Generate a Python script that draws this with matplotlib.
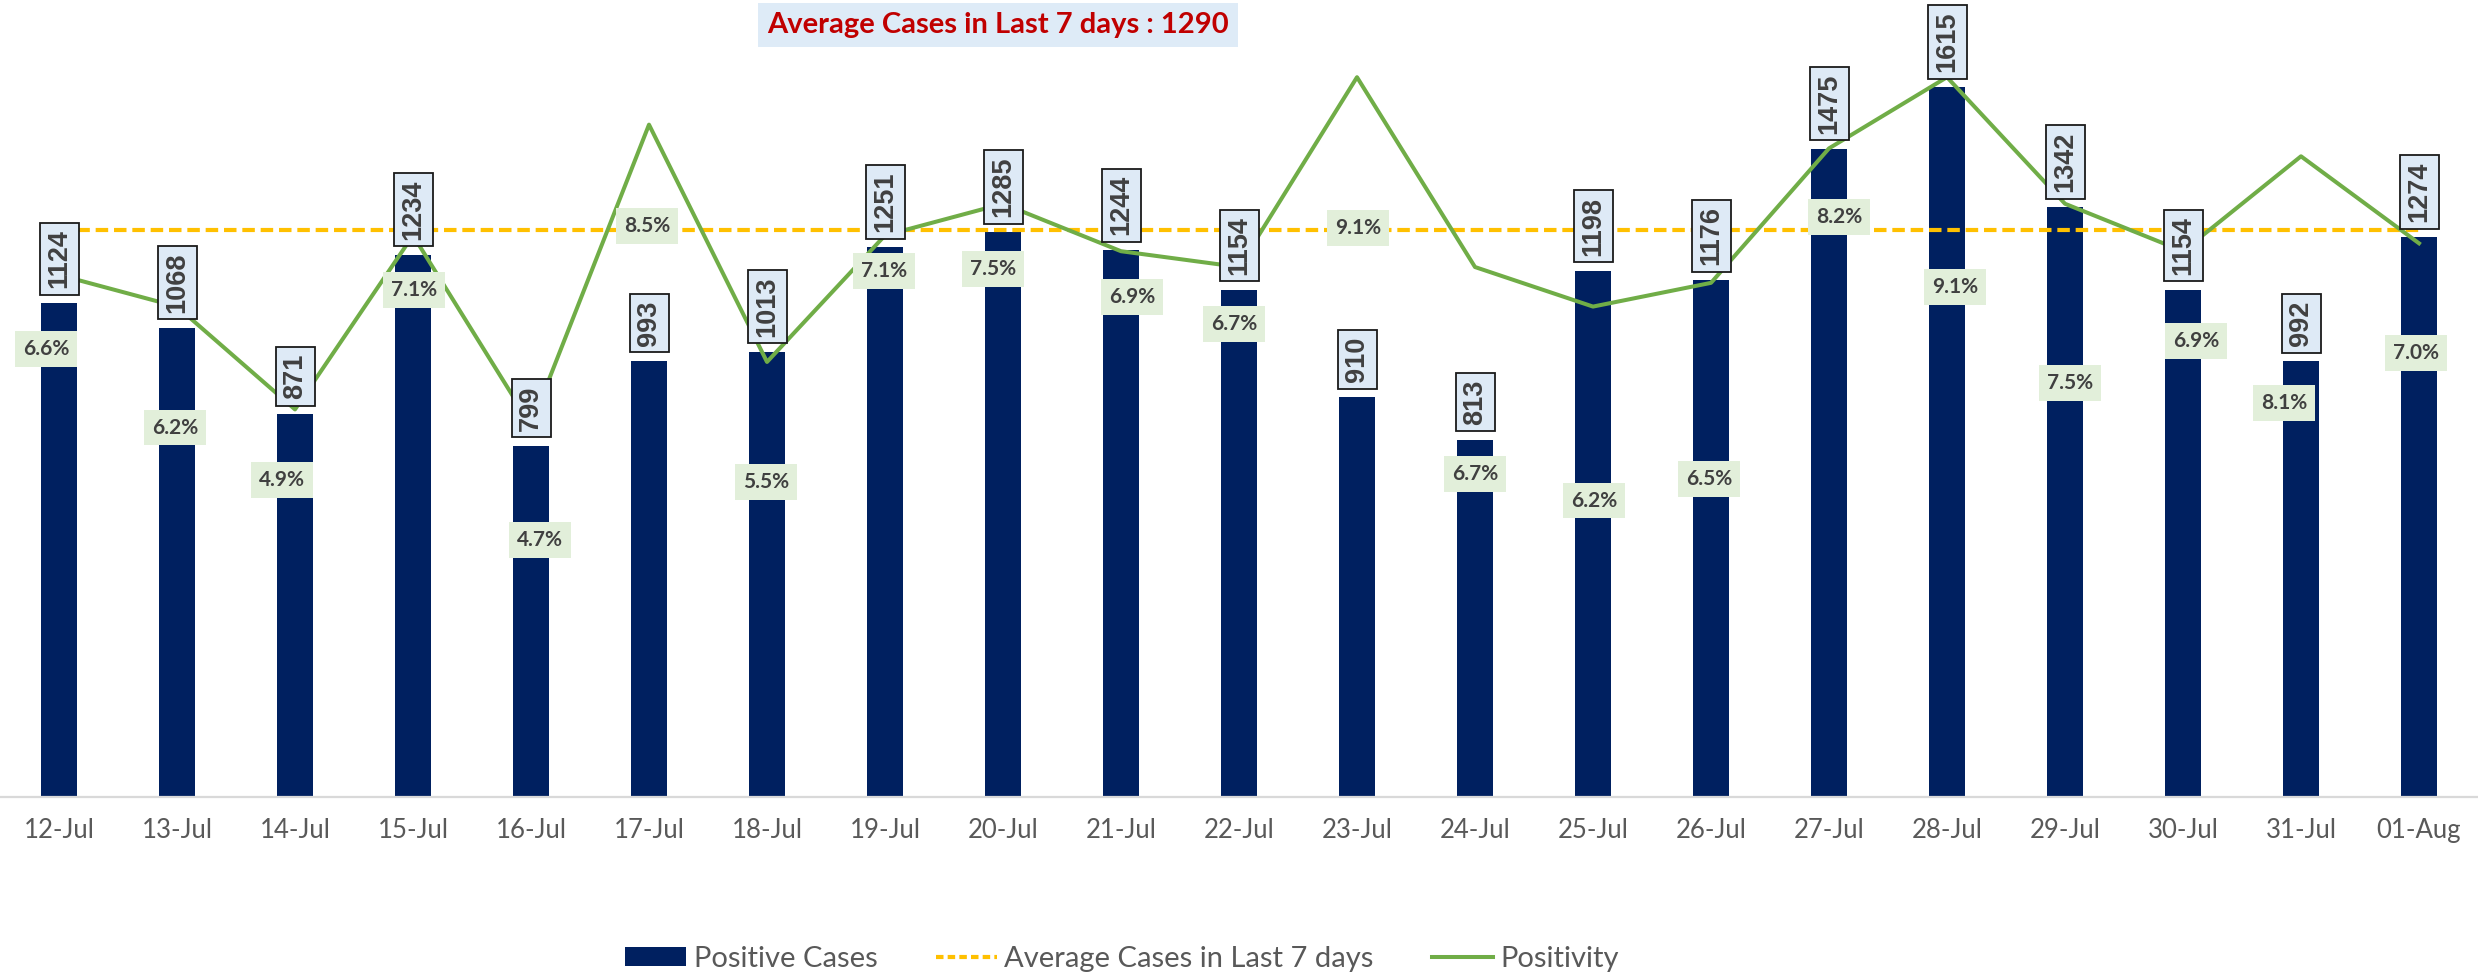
import matplotlib
matplotlib.use("Agg")
import matplotlib.pyplot as plt
from matplotlib.patches import Patch
from matplotlib.lines import Line2D

# ---- data ----
dates = ["12-Jul", "13-Jul", "14-Jul", "15-Jul", "16-Jul", "17-Jul", "18-Jul",
         "19-Jul", "20-Jul", "21-Jul", "22-Jul", "23-Jul", "24-Jul", "25-Jul",
         "26-Jul", "27-Jul", "28-Jul", "29-Jul", "30-Jul", "31-Jul", "01-Aug"]
positive_cases = [1124, 1068, 871, 1234, 799, 993, 1013, 1251, 1285, 1244, 1154,
                  910, 813, 1198, 1176, 1475, 1615, 1342, 1154, 992, 1274]
positivity = [6.6, 6.2, 4.9, 7.1, 4.7, 8.5, 5.5, 7.1, 7.5, 6.9, 6.7,
              9.1, 6.7, 6.2, 6.5, 8.2, 9.1, 7.5, 6.9, 8.1, 7.0]
avg_last7 = [1290] * len(dates)
title_text = "Average Cases in Last 7 days : 1290"

# label placement offsets (pixels) for positivity labels
pct_offsets = [(-13, -74), (-2, -121), (-13, -71), (1, -55), (9, -115), (-2, -101),
               (-1, -120), (-1, -36), (-10, -65), (11, -46), (-5, -57), (1, -151),
               (0, -207), (1, -194), (-2, -196), (10, -69), (8, -210), (5, -179),
               (13, -90), (-17, -247), (-3, -110)]

NAVY = "#002060"
GREEN = "#70AD47"
ORANGE = "#FFC000"
TXT = "#404040"
NARROW = ["Lato", "DejaVu Sans"]
ARIAL = ["Liberation Sans", "DejaVu Sans"]

W, H = 2478, 976
fig = plt.figure(figsize=(W / 100, H / 100), dpi=100)
ax = fig.add_axes([0, 1 - 797 / H, 1, (797 - 6) / H])
ax2 = ax.twinx()

x = list(range(len(dates)))
ax.bar(x, positive_cases, width=0.31, color=NAVY, zorder=2)
ax.plot(x, avg_last7, color=ORANGE, lw=3.0, dashes=(3.0, 1.4), zorder=3)
ax2.plot(x, positivity, color=GREEN, lw=2.9, zorder=3)

ax.set_xlim(-0.5, len(dates) - 0.5)
ax.set_ylim(0, 1800)
ax2.set_ylim(0, 10)

for a in (ax, ax2):
    for s in ("top", "left", "right"):
        a.spines[s].set_visible(False)
    a.set_yticks([])
ax2.spines["bottom"].set_visible(False)
ax.spines["bottom"].set_color("#D9D9D9")
ax.spines["bottom"].set_linewidth(1.6)

ax.set_xticks(x)
ax.set_xticklabels(dates, fontsize=18.5, color="#595959", family=NARROW)
ax.tick_params(axis="x", length=0, pad=15)
ax2.tick_params(axis="x", length=0, labelbottom=False)

# value labels (rotated, boxed) on top of everything
for xi, v in zip(x, positive_cases):
    ax2.annotate(str(v), xy=(xi, v), xycoords=ax.transData,
                 xytext=(0, 15), textcoords="offset pixels",
                 rotation=90, ha="center", va="bottom",
                 fontsize=19.5, fontweight="bold", color=TXT, family=ARIAL,
                 bbox=dict(boxstyle="square,pad=0.24", fc="#DEEAF6", ec="#1a1a1a", lw=1.3),
                 zorder=6)

# positivity labels
for xi, p, (dx, dy) in zip(x, positivity, pct_offsets):
    ax2.annotate(f"{p:.1f}%", xy=(xi, p), xytext=(dx, dy), textcoords="offset pixels",
                 ha="center", va="center", fontsize=15, fontweight="bold",
                 color=TXT, family=NARROW,
                 bbox=dict(boxstyle="square,pad=0.38", fc="#E2EFDA", ec="none"),
                 zorder=5)

# title box
fig.text(998 / W, 1 - 25 / H, title_text, ha="center", va="center",
         fontsize=21, fontweight="bold", color="#C00000", family=NARROW,
         bbox=dict(boxstyle="square,pad=0.3", fc="#DEEBF7", ec="none"))

handles = [Patch(facecolor=NAVY, edgecolor="none"),
           Line2D([], [], color=ORANGE, lw=3.0, dashes=(1.8, 1.0)),
           Line2D([], [], color=GREEN, lw=2.9)]
labels = ["Positive Cases", "Average Cases in Last 7 days", "Positivity"]
leg = fig.legend(handles, labels, loc="center", bbox_to_anchor=(1122 / W, 1 - 959 / H),
                 ncol=3, frameon=False, handlelength=2.1, handleheight=0.65,
                 handletextpad=0.25, columnspacing=2.0,
                 prop={"family": NARROW, "size": 21})
for t in leg.get_texts():
    t.set_color("#595959")

fig.savefig("out.png", dpi=100, facecolor="white")
